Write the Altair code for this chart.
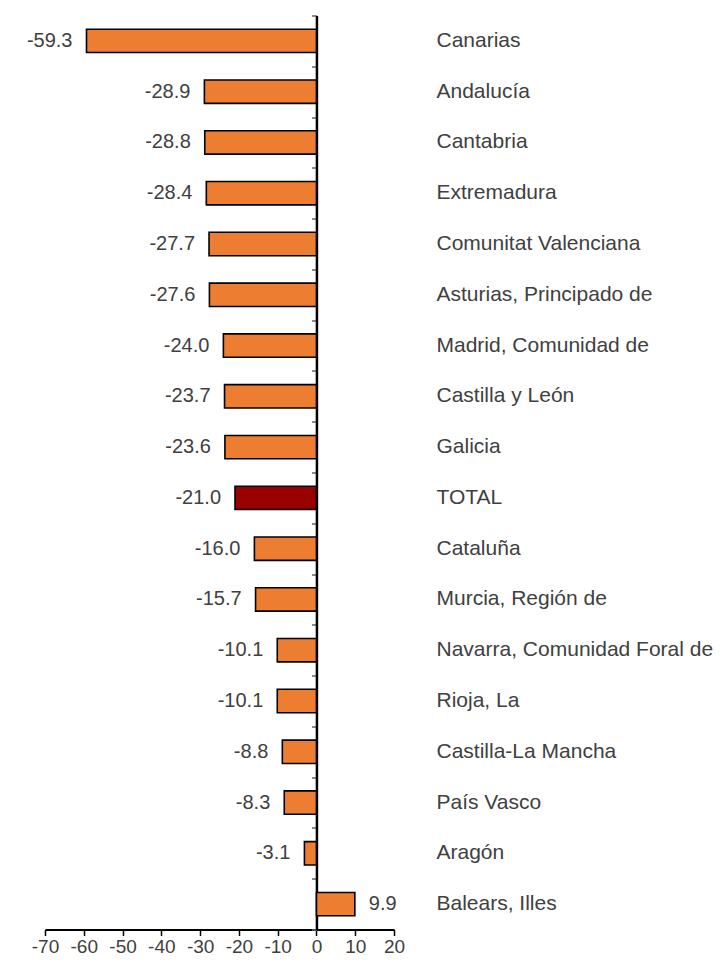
import altair as alt
import pandas as pd

regions = [
    "Canarias", "Andalucía", "Cantabria", "Extremadura", "Comunitat Valenciana",
    "Asturias, Principado de", "Madrid, Comunidad de", "Castilla y León", "Galicia",
    "TOTAL", "Cataluña", "Murcia, Región de", "Navarra, Comunidad Foral de",
    "Rioja, La", "Castilla-La Mancha", "País Vasco", "Aragón", "Balears, Illes",
]
values = [
    -59.3, -28.9, -28.8, -28.4, -27.7, -27.6, -24.0, -23.7, -23.6,
    -21.0, -16.0, -15.7, -10.1, -10.1, -8.8, -8.3, -3.1, 9.9,
]
x_ticks = [-70, -60, -50, -40, -30, -20, -10, 0, 10, 20]

df = pd.DataFrame({"region": regions, "value": values})
df["label"] = [f"{v:.1f}" for v in values]

FONT = "Liberation Sans"
TXT = "#404040"
W, H = 349, 914

xscale = alt.Scale(domain=[-70, 20], nice=False, zero=False)
yscale = alt.Scale(domain=regions, paddingInner=0, paddingOuter=0)

x_axis = alt.Axis(
    values=x_ticks, title=None, grid=False, labelExpr="'' + datum.value",
    labelOverlap=False, labelFlush=False,
    domainColor="black", domainWidth=2, tickColor="black", tickWidth=1.5,
    tickSize=6, labelFontSize=19, labelFont=FONT, labelColor=TXT, labelPadding=2,
)

bars = alt.Chart(df).mark_bar(
    stroke="black", strokeWidth=1.6, height=alt.RelativeBandSize(0.46)
).encode(
    x=alt.X("value:Q", scale=xscale, axis=x_axis),
    y=alt.Y("region:N", sort=regions, scale=yscale,
            axis=alt.Axis(orient="left", offset=-W * 70 / 90, labels=False, title=None,
                          domainColor="black", domainWidth=2.5, tickBand="extent",
                          tickColor="#666666", tickWidth=1.5, tickSize=5, grid=False)),
    color=alt.condition(alt.datum.region == "TOTAL", alt.value("#990000"), alt.value("#ED7D31")),
)

neg = alt.Chart(df).transform_filter(alt.datum.value < 0).mark_text(
    align="right", baseline="middle", dx=-14, fontSize=20, font=FONT, color=TXT
).encode(
    x=alt.X("value:Q", scale=xscale, axis=x_axis),
    y=alt.Y("region:N", sort=regions, scale=yscale,
            axis=alt.Axis(orient="right", title=None, domain=False, ticks=False, grid=False,
                          labelPadding=42, labelAlign="left", labelFontSize=21, labelFont=FONT,
                          labelColor=TXT, labelLimit=400)),
    text="label:N",
)

pos = alt.Chart(df).transform_filter(alt.datum.value >= 0).mark_text(
    align="left", baseline="middle", dx=14, fontSize=20, font=FONT, color=TXT
).encode(
    x=alt.X("value:Q", scale=xscale, axis=x_axis),
    y=alt.Y("region:N", sort=regions, scale=yscale, axis=None),
    text="label:N",
)

chart = alt.layer(bars, neg, pos).resolve_axis(y="independent").properties(
    width=W, height=H,
    background="white",
    autosize=alt.AutoSizeParams(type="none"),
    padding={"left": 37, "top": 7.5, "right": 319, "bottom": 27.5},
).configure_view(strokeWidth=0, stroke="transparent")

chart.save("out.html", embed_options={"renderer": "svg", "actions": False})
